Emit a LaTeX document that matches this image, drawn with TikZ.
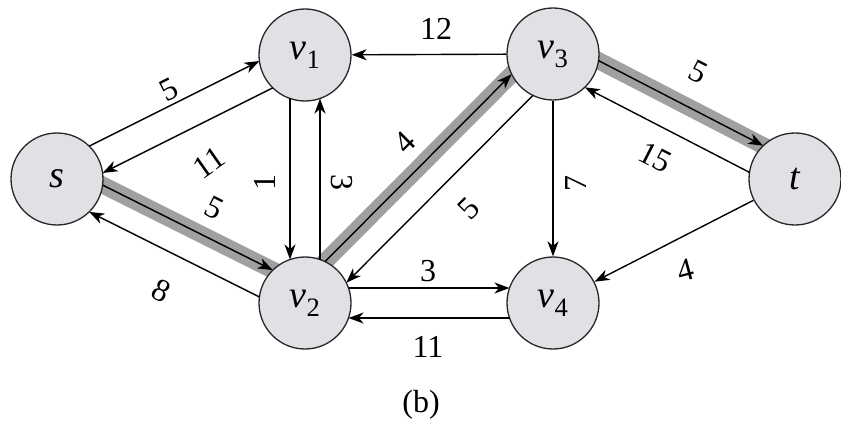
\documentclass[tikz,border=0pt]{standalone}
\usepackage{fontspec}
\setmainfont{Liberation Serif}
\usetikzlibrary{calc,arrows.meta,backgrounds}
\definecolor{nodegray}{HTML}{DFE1E5}
\definecolor{bandgray}{HTML}{A0A0A0}
\begin{document}
\begin{tikzpicture}[x=1pt,y=-1pt,
  vtx/.style={circle,draw=black!85,line width=1.3pt,fill=nodegray,minimum size=92pt,inner sep=0pt,font=\fontsize{38}{38}\selectfont},
  tipstyle/.style={-{Stealth[length=15pt,width=11pt,inset=4.5pt]}},
  arr/.style={line width=1.4pt,tipstyle,shorten <=43.5pt,shorten >=43.5pt},
  arrc/.style={line width=1.4pt,tipstyle},
  band/.style={line width=17pt,draw=bandgray,shorten <=35pt,shorten >=35pt},
  lab/.style={inner sep=0pt,font=\fontsize{32}{32}\selectfont}
]
\useasboundingbox (0,0) rectangle (841,433);
% vertices
\node[vtx] (s)  at (57,179)  {\textit{s}};
\node[vtx] (v1) at (305,55)  {\textit{v}\textsubscript{1}};
\node[vtx] (v2) at (305,303) {\textit{v}\textsubscript{2}};
\node[vtx] (v3) at (553,54)  {\textit{v}\textsubscript{3}};
\node[vtx] (v4) at (553,303) {\textit{v}\textsubscript{4}};
\node[vtx] (t)  at (795,179) {\textit{t}};
% highlighted path bands
\begin{scope}[on background layer]
  \draw[band] ($(s)!15pt!90:(v2)$) -- ($(v2)!15pt!-90:(s)$);
  \draw[band] ($(v2)!15pt!90:(v3)$) -- ($(v3)!15pt!-90:(v2)$);
  \draw[band] ($(v3)!15pt!90:(t)$) -- ($(t)!15pt!-90:(v3)$);
\end{scope}
% s - v1
\draw[arr] ($(s)!15pt!90:(v1)$) -- ($(v1)!15pt!-90:(s)$);
\draw[arr] ($(v1)!15pt!90:(s)$) -- ($(s)!15pt!-90:(v1)$);
% s - v2
\draw[arr] ($(s)!15pt!90:(v2)$) -- ($(v2)!15pt!-90:(s)$);
\draw[arr] ($(v2)!15pt!90:(s)$) -- ($(s)!15pt!-90:(v2)$);
% v1 - v2
\draw[arr] ($(v1)!15pt!-90:(v2)$) -- ($(v2)!15pt!90:(v1)$);
\draw[arr] ($(v2)!15pt!-90:(v1)$) -- ($(v1)!15pt!90:(v2)$);
% v2 - v3
\draw[arr] ($(v2)!15pt!90:(v3)$) -- ($(v3)!15pt!-90:(v2)$);
\draw[arr] ($(v3)!15pt!90:(v2)$) -- ($(v2)!15pt!-90:(v3)$);
% v3 - t
\draw[arr] ($(v3)!15pt!90:(t)$) -- ($(t)!15pt!-90:(v3)$);
\draw[arr] ($(t)!15pt!90:(v3)$) -- ($(v3)!15pt!-90:(t)$);
% v2 - v4
\draw[arr] ($(v2)!15pt!90:(v4)$) -- ($(v4)!15pt!-90:(v2)$);
\draw[arr] ($(v4)!15pt!90:(v2)$) -- ($(v2)!15pt!-90:(v4)$);
% single edges
\draw[arrc] (v3) -- (v1);
\draw[arrc] (v3) -- (v4);
\draw[arrc] (t) -- (v4);
% labels
\node[lab,rotate=27]  (l1)  at (169,90)  {5};
\node[lab,rotate=35]  (l2)  at (209,163) {11};
\node[lab,rotate=-27] (l3)  at (214,208) {5};
\node[lab,rotate=-27] (l4)  at (161,291) {8};
\node[lab,rotate=90]  (l5)  at (265,182) {1};
\node[lab,rotate=-90] (l6)  at (342,183) {3};
\node[lab,rotate=45]  (l7)  at (405,142) {4};
\node[lab,rotate=45]  (l8)  at (469,209) {5};
\node[lab]            (l9)  at (436,29)  {12};
\node[lab,rotate=90]  (l10) at (576,183) {7};
\node[lab,rotate=-27] (l11) at (698,72)  {5};
\node[lab,rotate=-27] (l12) at (655,157) {15};
\node[lab]            (l13) at (428,271) {3};
\node[lab]            (l14) at (428,347) {11};
\node[lab,rotate=15]  (l15) at (685,270) {4};
\node[lab]            (cap) at (421,405) {(b)};
\end{tikzpicture}
\end{document}
